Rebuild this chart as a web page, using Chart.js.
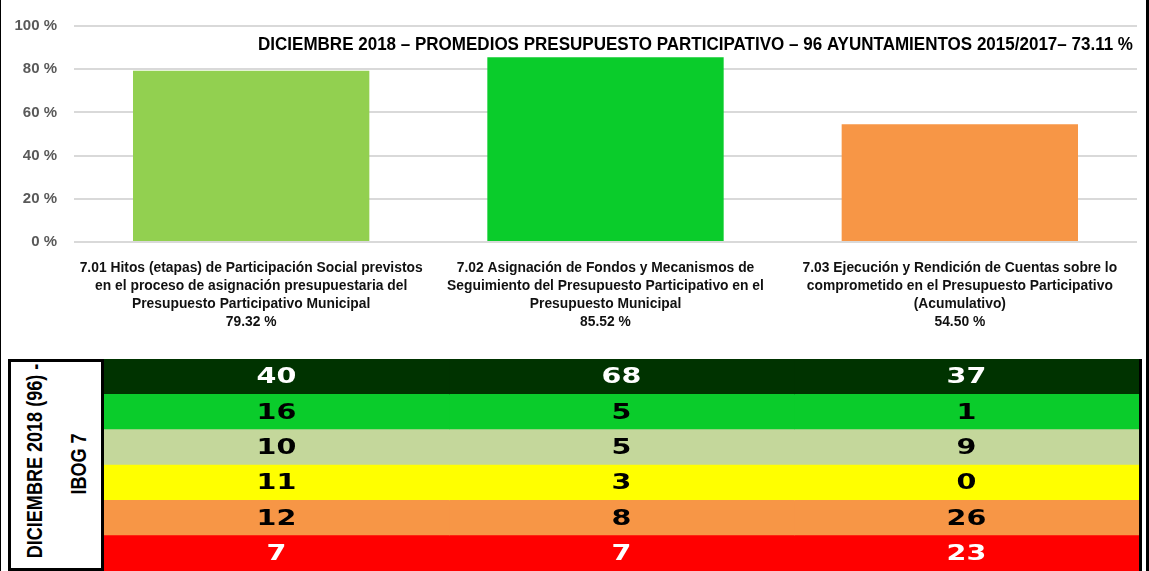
<!DOCTYPE html>
<html><head><meta charset="utf-8">
<script src="https://cdn.jsdelivr.net/npm/chart.js@4.4.1/dist/chart.umd.min.js"></script>
<style>
html,body{margin:0;padding:0;background:#fff;}
body{width:1149px;height:571px;position:relative;overflow:hidden;}
#c1{position:absolute;left:0;top:0;}
#c2{position:absolute;left:104px;top:359px;}
.bl{position:absolute;background:#000;}
#box{position:absolute;left:8px;top:359px;width:96px;height:212px;border:3px solid #000;box-sizing:border-box;background:#fff;}
.rot{position:absolute;white-space:nowrap;font:bold 22px 'Liberation Sans',Arial,sans-serif;transform:translate(-50%,-50%) rotate(-90deg) scaleX(0.82);color:#000;line-height:1;}
</style></head>
<body>
<canvas id="c1" width="1149" height="350"></canvas>
<div id="box">
  <div class="rot" style="left:24px;top:99px;">DICIEMBRE 2018 (96) -</div>
  <div class="rot" style="left:68px;top:102px;">IBOG 7</div>
</div>
<canvas id="c2" width="1035" height="212"></canvas>
<div class="bl" style="left:0;top:0;width:1px;height:571px;"></div>
<div class="bl" style="left:1146px;top:0;width:3px;height:571px;"></div>
<div class="bl" style="left:1139px;top:359px;width:3px;height:212px;"></div>
<script>
// ---- data ----
const chartTitle = "DICIEMBRE 2018 – PROMEDIOS PRESUPUESTO PARTICIPATIVO – 96 AYUNTAMIENTOS 2015/2017– 73.11 %";
const categories = [
  ["7.01 Hitos (etapas) de Participación Social previstos", "en el proceso de asignación presupuestaria del", "Presupuesto Participativo Municipal"],
  ["7.02 Asignación de Fondos y Mecanismos de", "Seguimiento del Presupuesto Participativo en el", "Presupuesto Municipal"],
  ["7.03 Ejecución y Rendición de Cuentas sobre lo", "comprometido en el Presupuesto Participativo", "(Acumulativo)"]
];
const promedios = [79.32, 85.52, 54.50];
const yTickValues = [0, 20, 40, 60, 80, 100];
const tableRows = ["nivel 1", "nivel 2", "nivel 3", "nivel 4", "nivel 5", "nivel 6"];
const counts701 = [40, 16, 10, 11, 12, 7];
const counts702 = [68, 5, 5, 3, 8, 7];
const counts703 = [37, 1, 9, 0, 26, 23];

// ---- styles ----
const barColors = ["#92D050", "#0ACC2B", "#F79646"];
const rowColors = ["#003300", "#0ACC2B", "#C4D79B", "#FFFF00", "#F79646", "#FF0000"];
const rowTextColors = ["#FFFFFF", "#000000", "#000000", "#000000", "#000000", "#FFFFFF"];
const SANS = "'Liberation Sans',Arial,sans-serif";

Chart.defaults.devicePixelRatio = 1;

const titlePlugin = {
  id: 'innerTitle',
  afterDraw(chart) {
    const ctx = chart.ctx;
    ctx.save();
    ctx.font = "bold 18px " + SANS;
    const w = ctx.measureText(chartTitle).width;
    const target = 875;
    ctx.translate(258, 45);
    ctx.scale(target / w, 1);
    ctx.textBaseline = 'middle';
    ctx.textAlign = 'left';
    ctx.fillStyle = '#000';
    ctx.fillText(chartTitle, 0, 0);
    ctx.restore();
  }
};

const catLabelPlugin = {
  id: 'catLabels',
  afterDraw(chart) {
    const ctx = chart.ctx, xs = chart.scales.x, area = chart.chartArea;
    ctx.save();
    ctx.font = "bold 14px " + SANS;
    const k = 343 / ctx.measureText(categories[0][0]).width;
    ctx.fillStyle = '#111';
    ctx.textAlign = 'center';
    ctx.textBaseline = 'middle';
    chart.data.labels.forEach((lines, i) => {
      const cx = xs.getPixelForValue(i);
      lines.forEach((t, j) => {
        ctx.save();
        ctx.translate(cx, area.bottom + 26 + j * 18);
        ctx.scale(k, 1);
        ctx.fillText(t, 0, 0);
        ctx.restore();
      });
    });
    ctx.restore();
  }
};

new Chart(document.getElementById('c1'), {
  type: 'bar',
  data: {
    labels: categories.map((c, i) => [...c, promedios[i].toFixed(2) + ' %']),
    datasets: [{
      data: promedios,
      backgroundColor: barColors,
      borderWidth: 0,
      barPercentage: 0.667,
      categoryPercentage: 1
    }]
  },
  options: {
    responsive: false,
    animation: false,
    layout: { padding: { left: 12, right: 12, top: 26, bottom: 108 } },
    plugins: { legend: { display: false }, tooltip: { enabled: false }, title: { display: false } },
    scales: {
      x: {
        grid: { display: false, drawTicks: false },
        border: { display: false },
        ticks: { display: false }
      },
      y: {
        min: 0, max: 100,
        afterFit(scale) { scale.width = 62; },
        afterBuildTicks(scale) { scale.ticks = yTickValues.map(v => ({ value: v })); },
        grid: { color: '#D9D9D9', lineWidth: 2, drawTicks: false },
        border: { display: false },
        ticks: {
          padding: 17,
          color: '#595959',
          font: { family: SANS, size: 15, weight: 'bold' },
          callback: v => v + ' %'
        }
      }
    }
  },
  plugins: [titlePlugin, catLabelPlugin]
});

const tableCounts = [counts701, counts702, counts703];
const cellTextPlugin = {
  id: 'cellText',
  afterDatasetsDraw(chart) {
    const ctx = chart.ctx;
    const xs = chart.scales.x, ys = chart.scales.y;
    ctx.save();
    ctx.font = "bold 22px 'DejaVu Sans',Verdana,sans-serif";
    ctx.textAlign = 'center';
    ctx.textBaseline = 'middle';
    tableCounts.forEach((col, c) => {
      col.forEach((v, r) => {
        const px = xs.getPixelForValue(c + 0.5);
        const py = ys.getPixelForValue(r);
        ctx.save();
        ctx.translate(px, py + 1);
        ctx.scale(1.3, 1);
        ctx.fillStyle = rowTextColors[r];
        ctx.fillText(String(v), 0, 0);
        ctx.restore();
      });
    });
    ctx.restore();
  }
};

new Chart(document.getElementById('c2'), {
  type: 'bar',
  data: {
    labels: tableRows,
    datasets: tableCounts.map((col, c) => ({
      data: col.map(() => [c, c + 1]),
      backgroundColor: rowColors,
      borderWidth: 0,
      grouped: false,
      barPercentage: 1,
      categoryPercentage: 1
    }))
  },
  options: {
    indexAxis: 'y',
    responsive: false,
    animation: false,
    layout: { padding: 0 },
    plugins: { legend: { display: false }, tooltip: { enabled: false } },
    scales: {
      x: { display: false, min: 0, max: 3 },
      y: { display: false }
    }
  },
  plugins: [cellTextPlugin]
});
</script>
</body></html>
